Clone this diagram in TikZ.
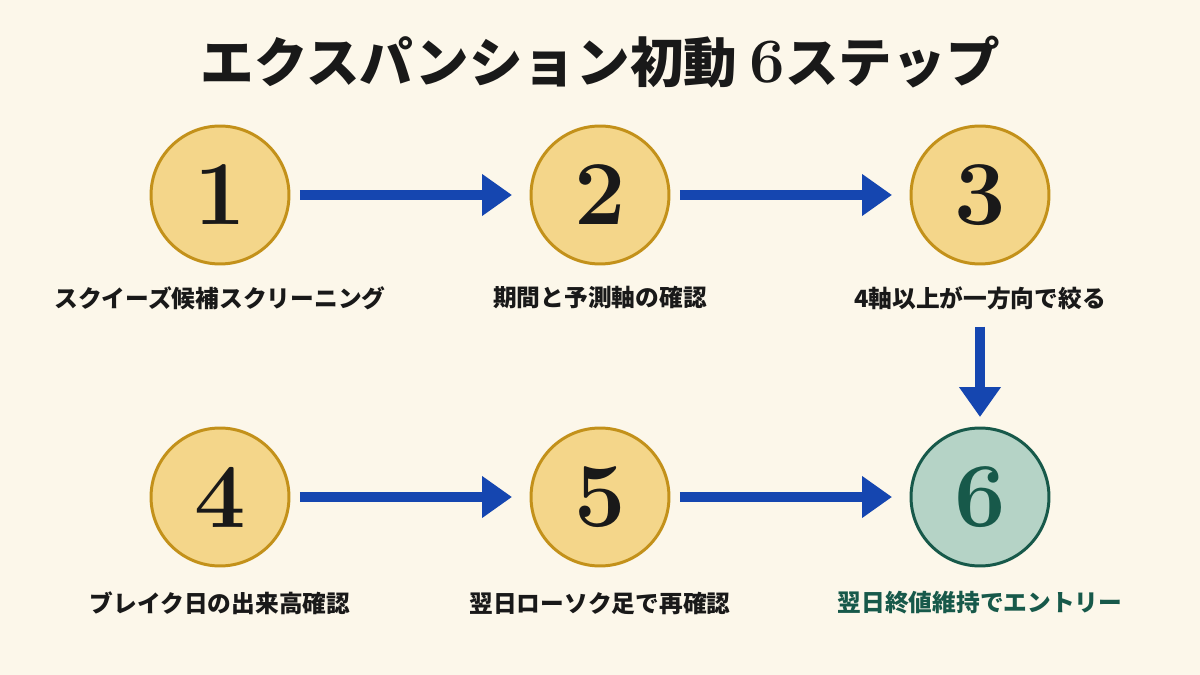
\documentclass[tikz,border=0pt]{standalone}
\usepackage{fontspec}
\usepackage{xcolor}
\usepackage{tikz}
\usetikzlibrary{arrows.meta,positioning}
\newfontfamily\jp{Noto Sans CJK JP}
\definecolor{bgcream}{HTML}{FCF7EA}
\definecolor{coinfill}{HTML}{F4D68A}
\definecolor{coinedge}{HTML}{C3911A}
\definecolor{flowblue}{HTML}{1546B0}
\definecolor{goalfill}{HTML}{B5D3C6}
\definecolor{goaldark}{HTML}{17594A}
\newcommand{\ttlf}{\jp\bfseries\fontsize{30.5}{34}\selectfont}
\newcommand{\lblf}{\jp\bfseries\fontsize{13.5}{16}\selectfont}
\newcommand{\numf}{\bfseries\fontsize{52}{56}\selectfont}

\begin{document}
\begin{tikzpicture}[x=0.02cm, y=-0.02cm, every node/.style={inner sep=0pt, outer sep=0pt},
  coin/.style={circle, minimum size=2.76cm, draw=coinedge, fill=coinfill, line width=1.7pt, text=black!90, font=\numf},
  goal/.style={coin, draw=goaldark, fill=goalfill, text=goaldark},
  steplbl/.style={font=\lblf, text=black!90},
  flow/.style={draw=flowblue, line width=6.2pt, -{Triangle[width=0.8cm, length=0.6cm]}}]
% ---- background and frame
\fill[bgcream] (0,0) rectangle (1200,675);
\useasboundingbox (0,0) rectangle (1200,675);
\node[font=\ttlf, text=black!90] (title) at (600,62) {エクスパンション初動 {\rmfamily\bfseries\fontsize{36}{36}\selectfont 6}ステップ};
% ---- upper row
\node[coin] (c1) at (220,195) {1};
\node[coin] (c2) at (600,195) {2};
\node[coin] (c3) at (980,195) {3};
\node[steplbl] (l1) at (220,298) {スクイーズ候補スクリーニング};
\node[steplbl] (l2) at (600,298) {期間と予測軸の確認};
\node[steplbl] (l3) at (980,298) {4軸以上が一方向で絞る};
% ---- lower row
\node[coin] (c4) at (220,497) {4};
\node[coin] (c5) at (600,497) {5};
\node[goal] (c6) at (980,497) {6};
\node[steplbl] (l4) at (220,603) {ブレイク日の出来高確認};
\node[steplbl] (l5) at (600,603) {翌日ローソク足で再確認};
\node[steplbl, text=goaldark] (l6) at (980,603) {翌日終値維持でエントリー};
% ---- connectors
\draw[flow, shorten <=0.22cm, shorten >=0.38cm] (c1) -- (c2);
\draw[flow, shorten <=0.22cm, shorten >=0.38cm] (c2) -- (c3);
\draw[flow, shorten <=0.22cm, shorten >=0.38cm] (c4) -- (c5);
\draw[flow, shorten <=0.22cm, shorten >=0.38cm] (c5) -- (c6);
\draw[flow, shorten <=0.34cm, shorten >=0.22cm] (l3.south) -- (c6.north);
\end{tikzpicture}
\end{document}
